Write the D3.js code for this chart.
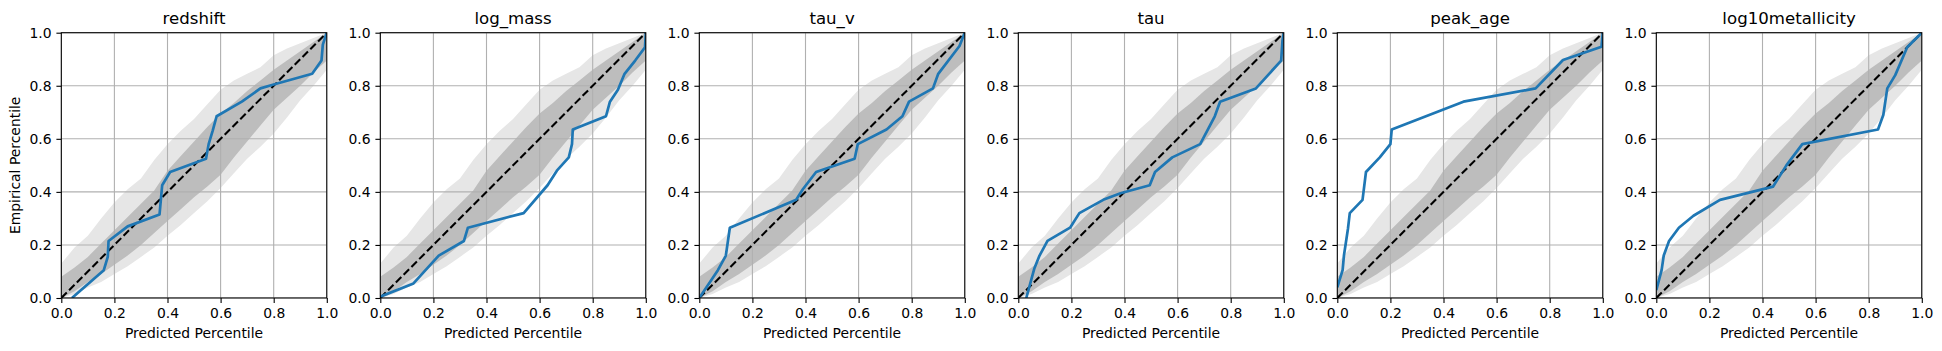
<!DOCTYPE html>
<html>
<head>
<meta charset="utf-8">
<script src="https://cdn.jsdelivr.net/npm/d3@7"></script>
<style>
  body { margin: 0; background: #fff; }
  text { font-family: "DejaVu Sans", sans-serif; fill: #000; }
</style>
</head>
<body>
<div id="container"></div>
<script>
/* CONSTANTS AND GLOBALS */
const width = 1942;
const height = 351;

// panel layout (pixels)
const panelLeft = 61.3;
const panelStep = 319;
const panelW = 265.5;
const panelTop = 32.7;
const panelH = 265.3;

const titles = ["redshift", "log_mass", "tau_v", "tau", "peak_age", "log10metallicity"];
const ticks = [0, 0.2, 0.4, 0.6, 0.8, 1.0];

// coverage bands (same in every panel)
const bandX   = [0, 0.05, 0.1, 0.15, 0.2, 0.25, 0.3, 0.35, 0.4, 0.45, 0.5, 0.55, 0.6, 0.65, 0.7, 0.75, 0.8, 0.85, 0.9, 0.95, 1.0];
const outerLo = [0, 0.015, 0.04, 0.06, 0.09, 0.12, 0.155, 0.19, 0.235, 0.275, 0.32, 0.365, 0.415, 0.47, 0.525, 0.57, 0.62, 0.68, 0.745, 0.8, 0.86];
const outerHi = [0.13, 0.19, 0.235, 0.3, 0.36, 0.41, 0.45, 0.52, 0.58, 0.63, 0.675, 0.73, 0.785, 0.82, 0.845, 0.87, 0.915, 0.94, 0.96, 0.98, 1.0];
const innerLo = [0, 0.025, 0.06, 0.09, 0.125, 0.16, 0.2, 0.245, 0.29, 0.335, 0.38, 0.42, 0.465, 0.53, 0.59, 0.65, 0.71, 0.755, 0.8, 0.85, 0.895];
const innerHi = [0.08, 0.115, 0.155, 0.205, 0.255, 0.305, 0.355, 0.405, 0.48, 0.535, 0.59, 0.645, 0.695, 0.735, 0.78, 0.82, 0.86, 0.895, 0.93, 0.965, 1.0];

// calibration curves per parameter
const redshiftX = [0.04, 0.16, 0.175, 0.178, 0.25, 0.37, 0.38, 0.41, 0.545, 0.555, 0.57, 0.585, 0.68, 0.75, 0.8, 0.945, 0.98, 0.985, 1.0];
const redshiftY = [0.0, 0.105, 0.155, 0.215, 0.27, 0.315, 0.425, 0.475, 0.525, 0.58, 0.63, 0.685, 0.74, 0.79, 0.805, 0.845, 0.895, 0.955, 1.0];
const logMassX = [0.0, 0.125, 0.22, 0.315, 0.33, 0.54, 0.63, 0.665, 0.71, 0.722, 0.725, 0.85, 0.865, 0.895, 0.92, 0.96, 0.997, 1.0];
const logMassY = [0.005, 0.055, 0.16, 0.215, 0.265, 0.32, 0.425, 0.48, 0.53, 0.58, 0.635, 0.685, 0.74, 0.785, 0.845, 0.895, 0.945, 1.0];
const tauVX = [0, 0.07, 0.1, 0.115, 0.365, 0.39, 0.44, 0.585, 0.597, 0.705, 0.765, 0.79, 0.88, 0.9, 0.98, 1.0];
const tauVY = [0, 0.105, 0.16, 0.265, 0.37, 0.41, 0.475, 0.525, 0.58, 0.635, 0.685, 0.74, 0.79, 0.845, 0.95, 1.0];
const tauX = [0.03, 0.06, 0.08, 0.11, 0.195, 0.23, 0.32, 0.385, 0.495, 0.515, 0.58, 0.685, 0.74, 0.76, 0.895, 0.99, 0.995, 1.0];
const tauY = [0.0, 0.11, 0.16, 0.215, 0.265, 0.32, 0.37, 0.395, 0.425, 0.475, 0.53, 0.58, 0.685, 0.74, 0.79, 0.895, 0.97, 1.0];
const peakX = [0, 0.02, 0.025, 0.04, 0.047, 0.095, 0.108, 0.16, 0.2, 0.205, 0.475, 0.747, 0.85, 0.995, 1.0];
const peakY = [0.04, 0.105, 0.16, 0.26, 0.32, 0.37, 0.475, 0.53, 0.58, 0.635, 0.74, 0.79, 0.897, 0.947, 1.0];
const metalX = [0, 0.02, 0.028, 0.048, 0.085, 0.14, 0.24, 0.44, 0.49, 0.55, 0.835, 0.855, 0.87, 0.9, 0.945, 1.0];
const metalY = [0.03, 0.105, 0.16, 0.215, 0.265, 0.31, 0.37, 0.42, 0.5, 0.58, 0.635, 0.69, 0.79, 0.84, 0.945, 1.0];

const curvesX = [redshiftX, logMassX, tauVX, tauX, peakX, metalX];
const curvesY = [redshiftY, logMassY, tauVY, tauY, peakY, metalY];

const bandData = bandX.map((x, i) => ({ x: x, oLo: outerLo[i], oHi: outerHi[i], iLo: innerLo[i], iHi: innerHi[i] }));

/* SCALES */
const xScale = d3.scaleLinear().domain([0, 1]).range([0, panelW]);
const yScale = d3.scaleLinear().domain([0, 1]).range([panelH, 0]);

const svg = d3.select("#container")
  .append("svg")
  .attr("width", width)
  .attr("height", height);

svg.append("defs").append("clipPath")
  .attr("id", "clip")
  .append("rect")
  .attr("width", panelW)
  .attr("height", panelH);

const outerArea = d3.area().x(d => xScale(d.x)).y0(d => yScale(d.oLo)).y1(d => yScale(d.oHi));
const innerArea = d3.area().x(d => xScale(d.x)).y0(d => yScale(d.iLo)).y1(d => yScale(d.iHi));
const line = d3.line().x(d => xScale(d[0])).y(d => yScale(d[1]));

titles.forEach((title, i) => {
  const g = svg.append("g")
    .attr("transform", `translate(${panelLeft + i * panelStep},${panelTop})`);

  const plot = g.append("g").attr("clip-path", "url(#clip)");

  // bands
  plot.append("path").datum(bandData).attr("d", outerArea).attr("fill", "#e6e6e6");
  plot.append("path").datum(bandData).attr("d", innerArea).attr("fill", "#bdbdbd");

  // grid
  plot.selectAll(".vgrid").data(ticks).join("line")
    .attr("x1", d => xScale(d)).attr("x2", d => xScale(d))
    .attr("y1", 0).attr("y2", panelH)
    .attr("stroke", "#b0b0b0").attr("stroke-width", 1.1);
  plot.selectAll(".hgrid").data(ticks).join("line")
    .attr("y1", d => yScale(d)).attr("y2", d => yScale(d))
    .attr("x1", 0).attr("x2", panelW)
    .attr("stroke", "#b0b0b0").attr("stroke-width", 1.1);

  // diagonal
  plot.append("path").datum([[0, 0], [1, 1]])
    .attr("d", line)
    .attr("fill", "none")
    .attr("stroke", "#000")
    .attr("stroke-width", 2.08)
    .attr("stroke-dasharray", "7.7,3.3");

  // calibration curve
  const pts = curvesX[i].map((x, j) => [x, curvesY[i][j]]);
  plot.append("path").datum(pts)
    .attr("d", line)
    .attr("fill", "none")
    .attr("stroke", "#1f77b4")
    .attr("stroke-width", 2.7)
    .attr("stroke-linejoin", "round");

  // frame
  g.append("rect")
    .attr("width", panelW).attr("height", panelH)
    .attr("fill", "none").attr("stroke", "#000").attr("stroke-width", 1.1);

  // axes
  const xAxis = d3.axisBottom(xScale).tickValues(ticks).tickFormat(d3.format(".1f"))
    .tickSize(4.9).tickPadding(4.9);
  const yAxis = d3.axisLeft(yScale).tickValues(ticks).tickFormat(d3.format(".1f"))
    .tickSize(4.9).tickPadding(4.9);

  const gx = g.append("g").attr("transform", `translate(0,${panelH})`).call(xAxis);
  const gy = g.append("g").call(yAxis);
  [gx, gy].forEach(a => {
    a.select(".domain").remove();
    a.selectAll("line").attr("stroke", "#000").attr("stroke-width", 1.1);
    a.selectAll("text")
      .style("font-family", "DejaVu Sans")
      .style("font-size", "13.9px")
      .attr("fill", "#000");
  });

  // title
  g.append("text")
    .attr("x", panelW / 2)
    .attr("y", -8.7)
    .attr("text-anchor", "middle")
    .style("font-size", "16.6px")
    .text(title);

  // x label
  g.append("text")
    .attr("x", panelW / 2)
    .attr("y", panelH + 39.7)
    .attr("text-anchor", "middle")
    .style("font-size", "13.9px")
    .text("Predicted Percentile");

  if (i === 0) {
    g.append("text")
      .attr("transform", `translate(${20 - panelLeft},${panelH / 2}) rotate(-90)`)
      .attr("text-anchor", "middle")
      .style("font-size", "13.9px")
      .text("Empirical Percentile");
  }
});
</script>
</body>
</html>
